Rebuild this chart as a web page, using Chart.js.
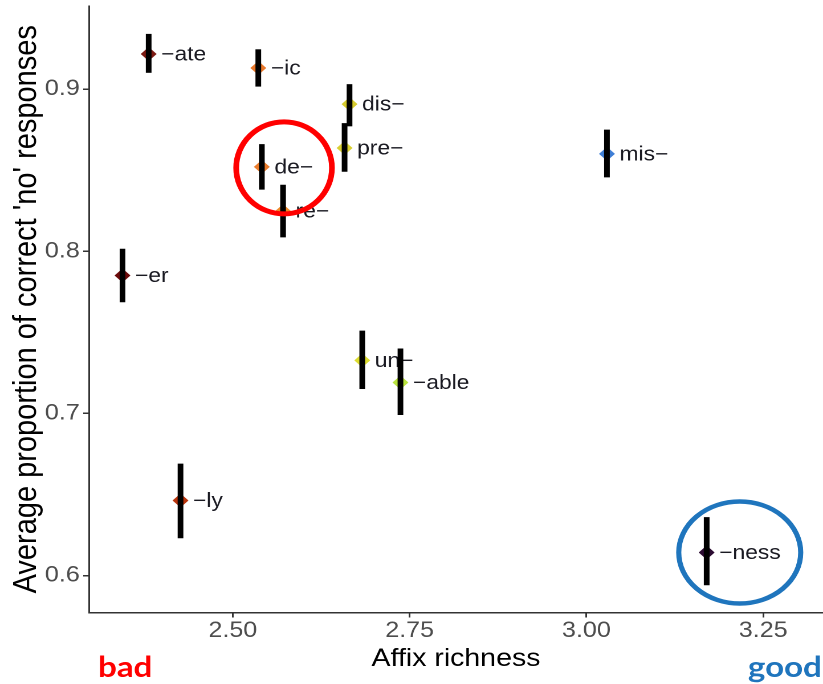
<!DOCTYPE html>
<html>
<head>
<meta charset="utf-8">
<script src="https://cdn.jsdelivr.net/npm/chart.js@4.4.1/dist/chart.umd.min.js"></script>
<style>
html,body{margin:0;padding:0;background:#fff;overflow:hidden;}
#wrap{position:relative;width:823px;height:684px;}
#c{display:block;width:823px;height:684px;}
</style>
</head>
<body>
<div id="wrap"><canvas id="c" width="722" height="684" style="width:823px;height:684px;"></canvas></div>
<script>
const affixes = ["−ate","−ic","dis−","pre−","de−","re−","mis−","−er","un−","−able","−ly","−ness"];
const richness = [2.381,2.536,2.665,2.658,2.541,2.571,3.029,2.344,2.683,2.737,2.426,3.170];
const proportion = [0.9216,0.913,0.8907,0.8636,0.852,0.8247,0.860,0.785,0.7327,0.719,0.6463,0.6142];
const errLow = [0.9100,0.9015,0.8770,0.8490,0.8380,0.8085,0.8455,0.7685,0.7150,0.6990,0.6230,0.5940];
const errHigh = [0.9340,0.9245,0.9030,0.8790,0.8660,0.8410,0.8750,0.8015,0.7510,0.7400,0.6690,0.6360];
const pointColors = ["#7d1a12","#e8772a","#d6cb2e","#d9cf32","#ea7c2c","#ee8a2a","#3f7fd6","#6b0a0a","#dcdc30","#b8e23e","#b8340c","#2c0c32"];
const xTicks = [2.50,2.75,3.00,3.25];
const yTicks = [0.6,0.7,0.8,0.9];
const xRange = [2.2965,3.3345];
const yRange = [0.5772,0.9512];
const highlightBad = "de−";
const highlightGood = "−ness";

const points = richness.map((x,i)=>({x:x,y:proportion[i]}));
const FONT = '"Liberation Sans", Arial, sans-serif';

const overlayPlugin = {
  id:'overlay',
  afterDatasetsDraw(chart){
    const ctx = chart.ctx;
    const xs = chart.scales.x, ys = chart.scales.y;
    ctx.save();
    // labels
    ctx.font = '20px ' + FONT;
    ctx.fillStyle = '#1a1a22';
    ctx.textBaseline = 'middle';
    ctx.textAlign = 'left';
    affixes.forEach((a,i)=>{
      const px = xs.getPixelForValue(richness[i]);
      const py = ys.getPixelForValue(proportion[i]);
      ctx.fillText(a, px+11, py+1);
    });
    // error bars
    ctx.strokeStyle = '#000';
    ctx.lineWidth = 5;
    ctx.lineCap = 'butt';
    affixes.forEach((a,i)=>{
      const px = xs.getPixelForValue(richness[i]);
      ctx.beginPath();
      ctx.moveTo(px, ys.getPixelForValue(errHigh[i]));
      ctx.lineTo(px, ys.getPixelForValue(errLow[i]));
      ctx.stroke();
    });
    // highlight ellipses
    const bi = affixes.indexOf(highlightBad);
    const gi = affixes.indexOf(highlightGood);
    ctx.lineWidth = 5;
    ctx.strokeStyle = '#ff0000';
    ctx.beginPath();
    ctx.ellipse(xs.getPixelForValue(richness[bi])+19.5, ys.getPixelForValue(proportion[bi])+1, 42, 46, 0, 0, Math.PI*2);
    ctx.stroke();
    ctx.lineWidth = 4.5;
    ctx.strokeStyle = '#1f75bd';
    ctx.beginPath();
    ctx.ellipse(xs.getPixelForValue(richness[gi])+29, ys.getPixelForValue(proportion[gi]), 53.5, 51, 0, 0, Math.PI*2);
    ctx.stroke();
    // bad / good
    ctx.font = 'bold 29px Lato, "Open Sans", sans-serif';
    ctx.textBaseline = 'alphabetic';
    ctx.fillStyle = '#ff0000';
    ctx.textAlign = 'left';
    ctx.fillText('bad', 86, 677);
    ctx.fillStyle = '#1f75bd';
    ctx.textAlign = 'right';
    ctx.fillText('good', 721, 677);
    ctx.restore();
  }
};

new Chart(document.getElementById('c'), {
  type:'scatter',
  data:{datasets:[{
    data: points,
    pointStyle:'rectRot',
    pointRadius:7,
    pointHoverRadius:7,
    pointBackgroundColor: pointColors,
    pointBorderColor: pointColors,
    pointBorderWidth:0
  }]},
  options:{
    responsive:false,
    devicePixelRatio:2,
    animation:false,
    events:[],
    layout:{autoPadding:false, padding:{top:6,right:0,left:0,bottom:0}},
    plugins:{legend:{display:false},tooltip:{enabled:false}},
    scales:{
      x:{
        type:'linear', min:xRange[0], max:xRange[1],
        afterBuildTicks(s){ s.ticks = xTicks.map(v=>({value:v})); },
        afterFit(s){ s.height = 71.5; s.paddingLeft = 0; s.paddingRight = 0; },
        border:{color:'#333',width:1.5},
        grid:{drawOnChartArea:false, drawTicks:true, tickLength:5, color:'#333', lineWidth:1.5},
        ticks:{color:'#4d4d4d', font:{family:FONT, size:22}, padding:0,
          callback:(v)=>Number(v).toFixed(2)},
        title:{display:true, text:'Affix richness', color:'#000', font:{family:FONT, size:25}, padding:{top:0,bottom:10}}
      },
      y:{
        type:'linear', min:yRange[0], max:yRange[1],
        afterBuildTicks(s){ s.ticks = yTicks.map(v=>({value:v})); },
        afterFit(s){ s.width = 78; s.paddingTop = 0; s.paddingBottom = 0; },
        border:{color:'#333',width:1.5},
        grid:{drawOnChartArea:false, drawTicks:true, tickLength:5, color:'#333', lineWidth:1.5},
        ticks:{color:'#4d4d4d', font:{family:FONT, size:22}, padding:3,
          callback:(v)=>Number(v).toFixed(1)},
        title:{display:true, text:"Average proportion of correct 'no' responses", color:'#000', font:{family:FONT, size:29}, padding:{top:6,bottom:0}}
      }
    }
  },
  plugins:[overlayPlugin]
});
</script>
</body>
</html>
